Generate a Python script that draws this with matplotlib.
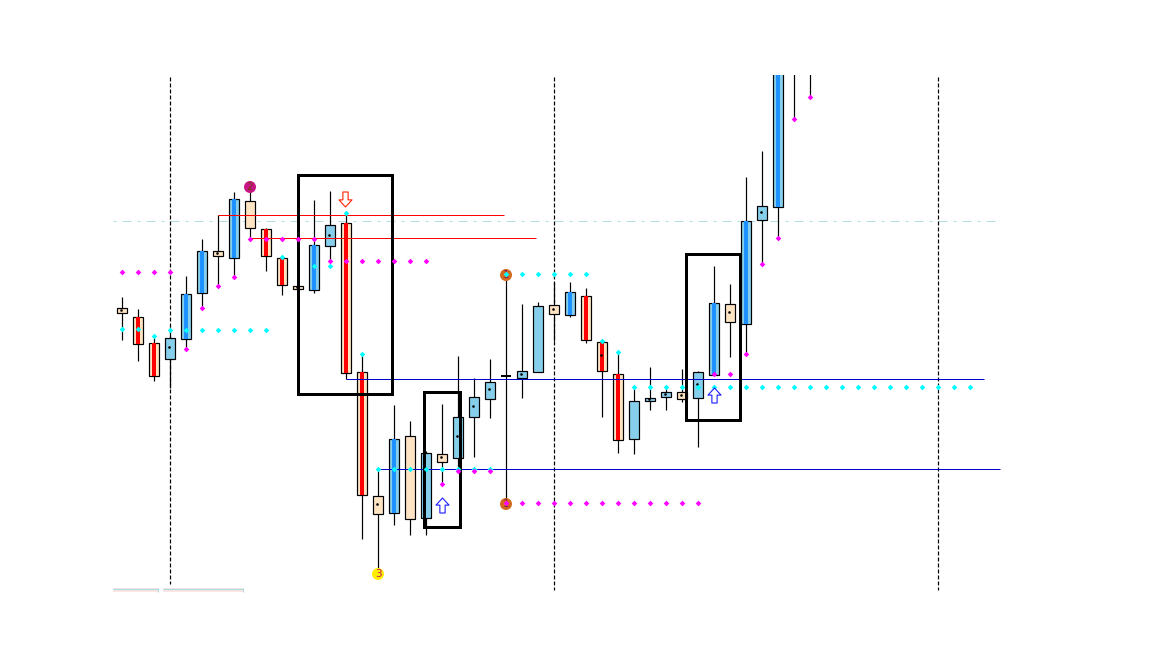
#!/usr/bin/env python3
"""Candlestick chart with support/resistance dots and marked boxes."""
import matplotlib
matplotlib.use("Agg")
import matplotlib.pyplot as plt
from matplotlib.patches import Rectangle
from matplotlib.path import Path

PX = 0.72  # one pixel in points at dpi=100
BAR0, BAR_STEP = 122, 16  # pixel column of bar 0, pixels per bar

# price read as chart rows (axis is inverted)
# candles: body top, body bottom, wick top, wick bottom
body_top = [308.5, 317.5, 343.5, 338.5, 294.5, 251.5, 251.5, 199.5, 201.5, 229.5, 258.5, 286.5,
            245.5, 225.5, 223.5, 372.5, 496.5, 439.5, 436.5, 453.5, 454.5, 417.5, 397.5, 382.5,
            376.5, 371.5, 306.5, 305.5, 292.5, 296.5, 342.5, 374.5, 401.5, 398.5, 392.5, 392.5,
            372.5, 303.5, 304.5, 221.5, 206.5, 60, 60, 60]
body_bot = [313.5, 344.5, 376.5, 359.5, 339.5, 293.5, 256.5, 258.5, 228.5, 256.5, 285.5, 289.5,
            290.5, 246.5, 373.5, 495.5, 514.5, 513.5, 519.5, 518.5, 462.5, 458.5, 417.5, 399.5,
            378, 378.5, 372.5, 314.5, 315.5, 340.5, 371.5, 440.5, 439.5, 401.5, 397.5, 399.5,
            398.5, 375.5, 322.5, 324.5, 220.5, 207.5, 60, 60]
wick_top = [298, 310, 336, 328, 277, 240, 216, 193, 187, 229, 257, 286, 201, 192, 213, 354, 469,
            406, 422, 452, 405, 357, 379, 360, 275, 305, 303, 283, 283, 289, 340, 352, 388, 368,
            388, 370, 372, 267, 285, 178, 152, 60, 60, 60]
wick_bot = [341, 362, 382, 389, 350, 308, 286, 277, 239, 272, 296, 290, 294, 262, 379, 540, 574,
            526, 536, 536, 485, 472, 458, 419, 504, 399, 372, 342, 318, 344, 418, 454, 455, 411,
            411, 403, 448, 375, 358, 354, 264, 238, 119, 97]
up_bar = [0, 0, 0, 1, 1, 1, 0, 1, 0, 0, 0, 0, 1, 1, 0, 0, 0, 1, 0, 1, 0, 1, 1, 1, 1, 1, 1, 0, 1,
          0, 0, 0, 1, 1, 1, 0, 1, 1, 0, 1, 1, 1, 1, 1]
strong_bar = [0, 1, 1, 0, 1, 1, 0, 1, 0, 1, 1, 0, 1, 0, 1, 1, 0, 1, 0, 0, 0, 0, 0, 0, 0, 0, 0, 0,
              1, 1, 1, 1, 0, 0, 0, 0, 0, 1, 0, 1, 0, 1, 0, 0]

# small black pivot dots
dot_bar = [0, 3, 6, 11, 12, 13, 16, 20, 21, 22, 23, 25, 27, 30, 33, 34, 35, 36, 38, 40]
dot_val = [311, 348, 254, 288, 267, 236, 505, 458, 437, 407, 390, 375, 310, 356, 400, 395,
           396, 385, 313, 213]

magenta_bar = [0, 1, 2, 3, 4, 5, 6, 7, 8, 9, 10, 11, 12, 13, 14, 15, 16, 17, 18, 19, 20, 21, 22,
               23, 24, 25, 26, 27, 28, 29, 30, 31, 32, 33, 34, 35, 36, 37, 38, 39, 40, 41, 42, 43]
magenta_val = [272.5, 272.5, 272.5, 272.5, 349.5, 308.5, 286.5, 277.5, 239.5, 239.5, 239.5, 239.5,
               239.5, 261.5, 261.5, 261.5, 261.5, 261.5, 261.5, 261.5, 484.5, 471.5, 471.5, 471.5,
               503.5, 503.5, 503.5, 503.5, 503.5, 503.5, 503.5, 503.5, 503.5, 503.5, 503.5, 503.5,
               503.5, 374.5, 374.5, 354.5, 264.5, 238.5, 119.5, 97.5]
cyan_bar = [0, 1, 2, 3, 4, 5, 6, 7, 8, 9, 10, 12, 13, 14, 15, 16, 17, 18, 19, 20, 21, 22, 23, 24,
            25, 26, 27, 28, 29, 30, 31, 32, 33, 34, 35, 36, 37, 38, 39, 40, 41, 42, 43, 44, 45,
            46, 47, 48, 49, 50, 51, 52, 53]
cyan_val = [329.5, 329.5, 336.5, 330.5, 330.5, 330.5, 330.5, 330.5, 330.5, 330.5, 257.5,
            266.5, 266.5, 213.5, 354.5, 469.5, 469.5, 469.5, 469.5, 469.5, 469.5, 469.5, 469.5,
            274.5, 274.5, 274.5, 274.5, 274.5, 274.5, 341.5, 352.5, 387.5, 387.5, 387.5, 387.5,
            387.5, 387.5, 387.5, 387.5, 387.5, 387.5, 387.5, 387.5, 387.5, 387.5, 387.5, 387.5,
            387.5, 387.5, 387.5, 387.5, 387.5, 387.5]

session_bars = [3, 27, 51]
session_end = [585, 591, 591]

# level: row, first bar, last bar
red_rows = [215.5, 238.5]
red_from = [6, 8]
red_to = [23.9, 25.9]
blue_rows = [379.5, 469.5]
blue_from = [14, 16]
blue_to = [53.9, 54.9]
mid_row = 221.5

# marked boxes: bar left, bar right, row top, row bottom
box_left = [11, 18.87, 35.25]
box_right = [16.9, 21.12, 38.65]
box_top = [175.5, 392.5, 254.5]
box_bot = [395, 528, 420.5]

arrow_bar = [13.95, 20, 37]
arrow_row = [200, 505.5, 395.5]
arrow_down = [True, False, False]

badge_bar = [8, 16, 24, 24]
badge_row = [188, 575, 276, 505]
badge_text = ["2", "3", "1", "1"]
badge_fill = ["#c71585", "#ffee00", "#d2691e", "#d2691e"]
badge_ink = ["#7a3a10", "#c2185b", "#8b1a4a", "#8b1a4a"]

tab_left = [113, 163]
tab_right = [158, 243]

# marker y points up on screen, whatever the axis does
UP_ARROW = Path([(-0.87, 0.05), (0, 1), (0.87, 0.05), (0.35, 0.05), (0.35, -1), (-0.35, -1),
                 (-0.35, 0.05), (-0.87, 0.05)], closed=True)
DOWN_ARROW = Path([(-0.87, -0.05), (0, -1), (0.87, -0.05), (0.35, -0.05), (0.35, 1), (-0.35, 1),
                   (-0.35, -0.05), (-0.87, -0.05)], closed=True)


def main():
    fig = plt.figure(figsize=(11.52, 6.48), dpi=100)
    # axes stops at row 75, candles above that are cut off
    ax = fig.add_axes([0, 0, 1, (648 - 75) / 648])
    ax.set_xlim(-BAR0 / BAR_STEP, (1152 - BAR0) / BAR_STEP)
    ax.set_ylim(649, 76)
    ax.axis("off")

    ax.hlines(mid_row, -0.62, 54.56, color="#b0e0e6", lw=1 * PX,
              linestyles=(14, (9, 6, 3, 6)), zorder=1)

    for b, end in zip(session_bars, session_end):
        ax.vlines(b, 78, end, color="black", lw=1.2 * PX, linestyles=(0, (3.3, 1.7)), zorder=2)

    # candles
    bars = range(len(body_top))
    ax.vlines(bars, wick_top, wick_bot, color="black", lw=1.2 * PX, zorder=3)
    for i in bars:
        if body_bot[i] - body_top[i] < 0.5:
            continue
        if i == 24:  # doji
            ax.hlines(body_top[i] + 0.5, i - 0.3, i + 0.3, color="black", lw=2 * PX, zorder=4)
            continue
        face = "#87ceeb" if up_bar[i] else "#ffe4c4"
        ax.bar(i, body_bot[i] - body_top[i], bottom=body_top[i], width=0.62, color=face,
               edgecolor="black", linewidth=1.2 * PX, zorder=4)
        if strong_bar[i]:
            inner = "#1e90ff" if up_bar[i] else "#ff0000"
            ax.bar(i, body_bot[i] - body_top[i], bottom=body_top[i], width=0.19, color=inner,
                   linewidth=0, zorder=5)

    # levels
    for row, a, b in zip(red_rows, red_from, red_to):
        ax.hlines(row, a, b, color="#ff0000", lw=1 * PX, zorder=6)
    for row, a, b in zip(blue_rows, blue_from, blue_to):
        ax.hlines(row, a, b, color="#0000cd", lw=1 * PX, zorder=6)
    ax.vlines(blue_from[0], body_bot[14], blue_rows[0], color="black", lw=1 * PX, zorder=3)

    for a, b, t, u in zip(box_left, box_right, box_top, box_bot):
        ax.add_patch(Rectangle((a, t), b - a, u - t, fill=False, ec="black", lw=3 * PX, zorder=7,
                               joinstyle="miter"))

    # badges sit under the dots
    ax.scatter(badge_bar, badge_row, s=(12 * PX) ** 2, c=badge_fill, linewidths=0, zorder=8)
    for b, r, s, ink in zip(badge_bar, badge_row, badge_text, badge_ink):
        ax.text(b, r, s, fontsize=7.5, color=ink, ha="center", va="center", zorder=9)

    ax.plot([b - 0.06 for b in dot_bar], dot_val, ls="", marker="o", ms=2.6 * PX, color="black",
            mew=0, zorder=9)
    ax.plot(cyan_bar, cyan_val, ls="", marker="D", ms=4 * PX, color="#00ffff", mew=0, zorder=10)
    ax.plot(magenta_bar, magenta_val, ls="", marker="D", ms=4 * PX, color="#ff00ff", mew=0, zorder=10)

    for b, r, down in zip(arrow_bar, arrow_row, arrow_down):
        ax.plot(b, r, ls="", marker=DOWN_ARROW if down else UP_ARROW, ms=15 * PX, mfc="white",
                mec="#ff2000" if down else "#1a1aff", mew=1.1 * PX, zorder=11)

    # tab stubs at the bottom
    for a, b in zip(tab_left, tab_right):
        x0 = (a - BAR0) / BAR_STEP
        w = (b - a) / BAR_STEP
        ax.add_patch(Rectangle((x0, 589), w, 4, fc="#fde6e3", ec="none", zorder=2))
        ax.hlines(589.5, x0, x0 + w, color="#a8dde0", lw=1.2 * PX, zorder=3)
        ax.vlines(x0 + w, 589, 593, color="#a8dde0", lw=1 * PX, zorder=3)

    fig.savefig("out.png", dpi=100)
    plt.close(fig)


if __name__ == "__main__":
    main()
